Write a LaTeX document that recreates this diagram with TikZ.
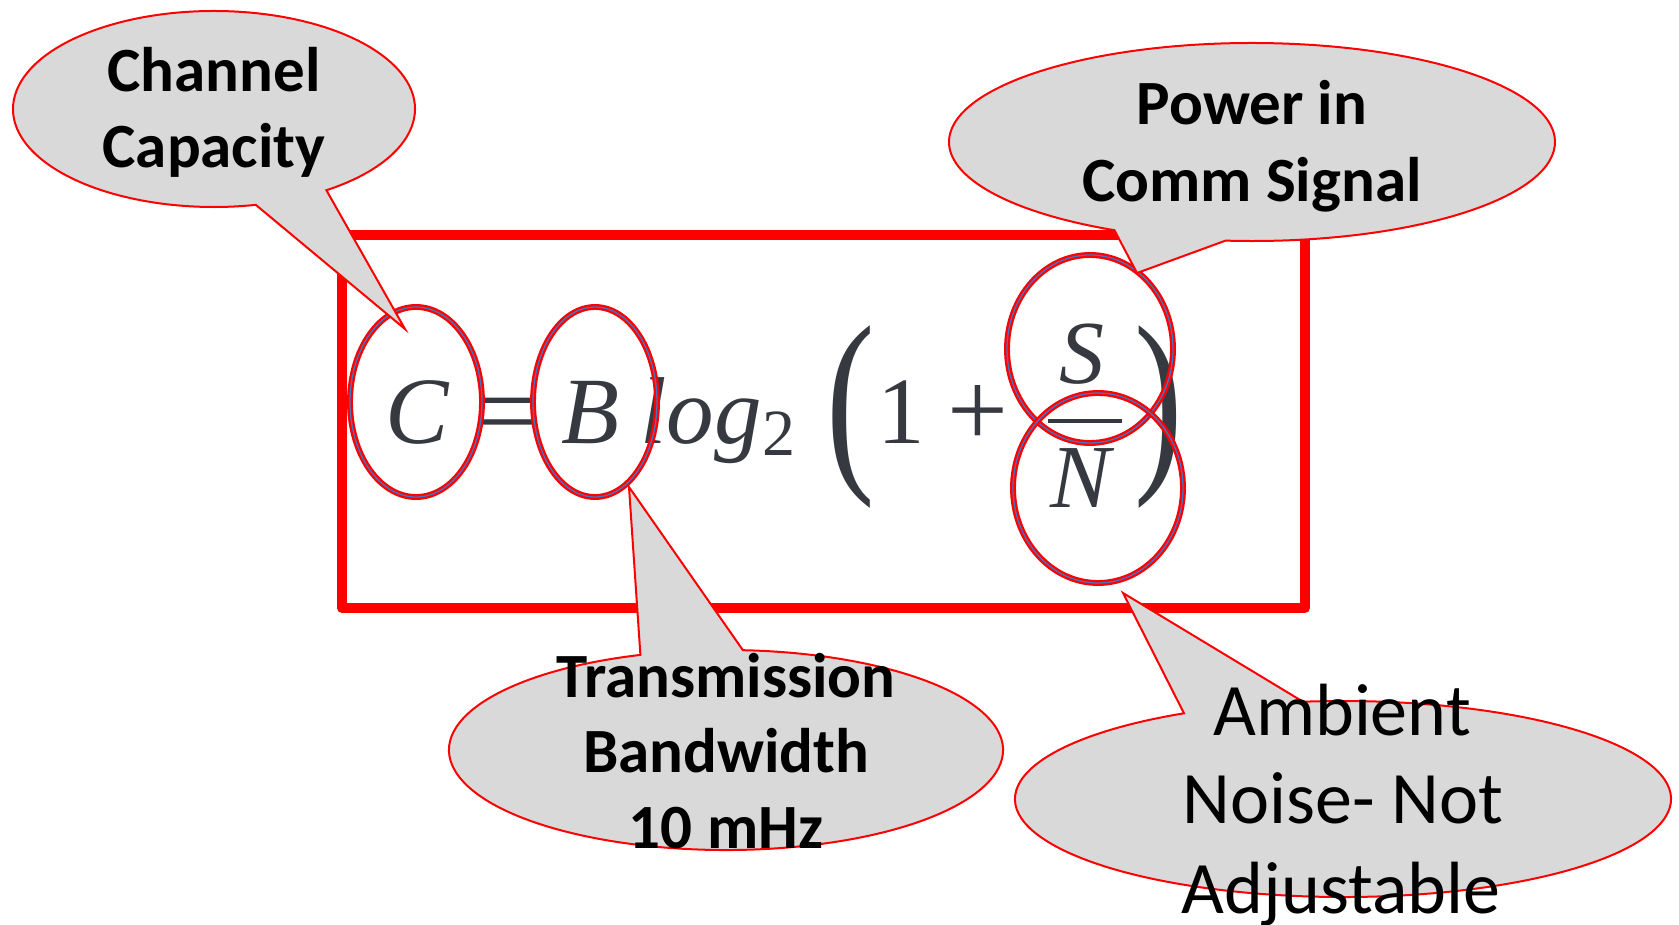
\documentclass[tikz,border=0pt]{standalone}
\usepackage{fontspec}
\setmainfont{Liberation Serif}
\newfontfamily\calfont{Carlito}
\usepackage{graphicx}
\definecolor{fcol}{HTML}{363940}
\definecolor{cfill}{HTML}{D9D9D9}
\definecolor{eblue}{HTML}{4472C4}
\begin{document}
\begin{tikzpicture}[x=1pt,y=1pt,
  box/.style={draw=red, line width=10pt, line join=round},
  callout/.style={fill=cfill, draw=red, line width=2pt, line join=miter},
  ring/.style={draw=red, line width=2.3pt, double=eblue, double distance=1.3pt},
  glyph/.style={text=fcol, inner sep=0pt, anchor=base},
  bigf/.style={font=\fontsize{95}{95}\selectfont},
  opf/.style={font=\fontsize{108}{108}\selectfont},
  bigi/.style={font=\itshape\fontsize{95}{95}\selectfont},
  fraci/.style={font=\itshape\fontsize{90}{90}\selectfont},
  blbl/.style={inner sep=0pt, anchor=base, font=\calfont\bfseries\fontsize{63}{76}\selectfont},
  rlbl/.style={inner sep=0pt, anchor=base, font=\calfont\fontsize{74}{88}\selectfont}]
\useasboundingbox (0,0) rectangle (1679,-925);

% frame
\draw[box] (342,-235) rectangle (1305,-608);

% formula
\node[glyph, bigi] (fC) at (417,-443) {C};
\node[glyph, opf] (feq) at (508,-447) {=};
\node[glyph, bigi] (fB) at (591,-443) {B};
\node[glyph, bigi] (flog) at (701,-443) {log};
\node[glyph, font=\fontsize{66}{66}\selectfont] (ftwo) at (779,-455) {2};
\node[glyph] (flp) at (851,-465) {\scalebox{1.12}[1.55]{\fontsize{130}{130}\selectfont (}};
\node[glyph, bigf] (fone) at (901,-443) {1};
\node[glyph, opf] (fplus) at (978,-446) {+};
\node[glyph, fraci] (fS) at (1082,-383) {S};
\node[glyph, fraci] (fN) at (1081,-507) {N};
\node[glyph] (frp) at (1159,-465) {\scalebox{1.12}[1.55]{\fontsize{130}{130}\selectfont )}};
\draw[fcol, line width=4pt] (1048,-421) -- (1122,-421);

% highlight rings
\draw[ring] (416,-402) ellipse [x radius=66pt, y radius=95pt];
\draw[ring] (595,-402) ellipse [x radius=62pt, y radius=95pt];
\draw[ring] (1090,-349) ellipse [x radius=83pt, y radius=94pt];
\draw[ring] (1098,-488) ellipse [x radius=85pt, y radius=95pt];

% callouts
\draw[callout] (214,-109) ++(-56:201pt and 98pt)
  arc[start angle=-56, end angle=282, x radius=201pt, y radius=98pt] -- (405,-329) -- cycle;
\draw[callout] (1252,-142) ++(-95:303pt and 99pt)
  arc[start angle=-95, end angle=243, x radius=303pt, y radius=99pt] -- (1137,-273) -- cycle;
\draw[callout] (726,-750) ++(108:277pt and 100pt)
  arc[start angle=108, end angle=446.5, x radius=277pt, y radius=100pt] -- (629,-487) -- cycle;
\draw[callout] (1343,-799) ++(119:328pt and 98pt)
  arc[start angle=119, end angle=457, x radius=328pt, y radius=98pt] -- (1123,-593) -- cycle;

% callout texts
\node[blbl] (cc1) at (214,-92) {Channel};
\node[blbl] (cc2) at (214,-168) {Capacity};
\node[blbl] (pw1) at (1252,-125) {Power in};
\node[blbl] (pw2) at (1252,-202) {Comm Signal};
\node[blbl] (tb1) at (726,-697) {Transmission};
\node[blbl] (tb2) at (726,-772) {Bandwidth};
\node[blbl] (tb3) at (726,-848) {10 mHz};
\node[rlbl] (an1) at (1342,-735) {Ambient};
\node[rlbl] (an2) at (1343,-823) {Noise- Not};
\node[rlbl] (an3) at (1341,-913) {Adjustable};
\end{tikzpicture}
\end{document}
